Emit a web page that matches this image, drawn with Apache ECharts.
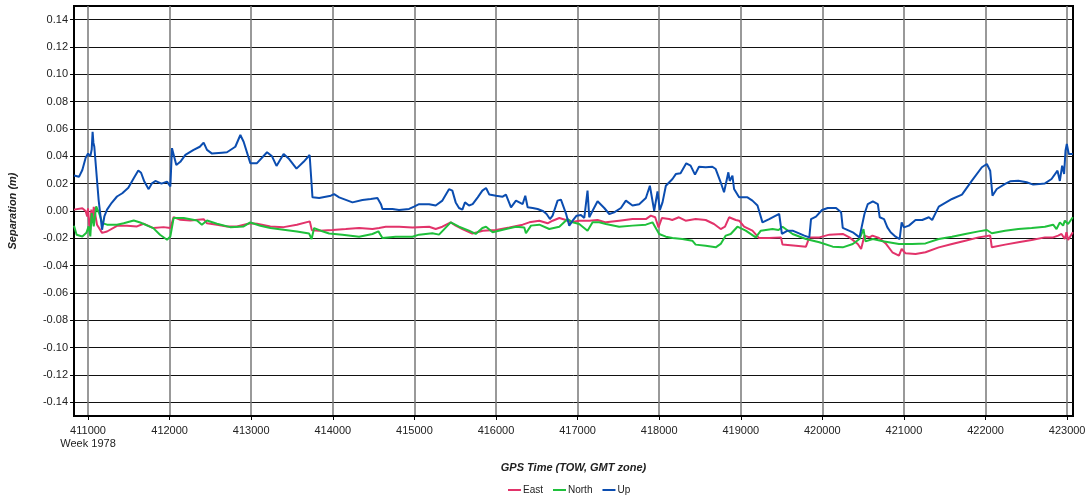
<!DOCTYPE html>
<html>
<head>
<meta charset="utf-8">
<script src="https://cdn.jsdelivr.net/npm/echarts@6/dist/echarts.min.js"></script>
<style>
  html, body { margin: 0; padding: 0; background: #fff; }
  #chart { width: 1089px; height: 502px; }
</style>
</head>
<body>
<div id="chart"></div>
<script>
// tick values
var xTicks = [411000, 412000, 413000, 414000, 415000, 416000, 417000, 418000, 419000, 420000, 421000, 422000, 423000];
var yTicks = [-0.14, -0.12, -0.10, -0.08, -0.06, -0.04, -0.02, 0, 0.02, 0.04, 0.06, 0.08, 0.10, 0.12, 0.14];
var seriesNames = ['East', 'North', 'Up'];

// [GPS TOW, separation m]
var eastData = [[410828,0.001],[410930,0.002],[410970,0.000],[410990,-0.004],[411000,0.002],[411015,-0.010],[411028,-0.0137],[411040,0.001],[411056,-0.0086],[411070,0.003],[411090,-0.003],[411110,-0.010],[411172,-0.016],[411233,-0.015],[411355,-0.0108],[411478,-0.0108],[411600,-0.0113],[411680,-0.0093],[411800,-0.0125],[411925,-0.0118],[412009,-0.0125],[412049,-0.0045],[412131,-0.0064],[412254,-0.007],[412417,-0.006],[412458,-0.009],[412580,-0.010],[412703,-0.0113],[412825,-0.0113],[412989,-0.0089],[413071,-0.0093],[413235,-0.0113],[413397,-0.0118],[413560,-0.010],[413718,-0.0076],[413743,-0.0140],[413833,-0.0144],[413996,-0.0139],[414159,-0.0132],[414322,-0.0124],[414486,-0.0132],[414567,-0.0124],[414649,-0.0115],[414812,-0.0115],[414976,-0.012],[415180,-0.0115],[415261,-0.0132],[415343,-0.0115],[415445,-0.0083],[415506,-0.0107],[415588,-0.0132],[415710,-0.0165],[415771,-0.0156],[415837,-0.0144],[416000,-0.0139],[416163,-0.012],[416327,-0.010],[416408,-0.0083],[416531,-0.0071],[416633,-0.009],[416694,-0.0071],[416776,-0.0051],[416857,-0.0066],[416918,-0.0083],[417020,-0.0071],[417143,-0.0071],[417245,-0.0066],[417347,-0.0083],[417510,-0.0071],[417673,-0.0059],[417837,-0.0059],[417898,-0.0034],[417951,-0.0046],[417992,-0.012],[418033,-0.0051],[418122,-0.0059],[418160,-0.0066],[418242,-0.0046],[418324,-0.0071],[418447,-0.0059],[418570,-0.0066],[418672,-0.0095],[418754,-0.0132],[418807,-0.0115],[418857,-0.0046],[418939,-0.0066],[418980,-0.0071],[419041,-0.0115],[419143,-0.0144],[419225,-0.0198],[419348,-0.0198],[419492,-0.0193],[419512,-0.0246],[419676,-0.0254],[419799,-0.0261],[419840,-0.0193],[419963,-0.0193],[420086,-0.0173],[420250,-0.0168],[420332,-0.0193],[420434,-0.0241],[420475,-0.0278],[420516,-0.018],[420578,-0.0193],[420614,-0.018],[420695,-0.0198],[420776,-0.0237],[420858,-0.0302],[420939,-0.0327],[420972,-0.0278],[421020,-0.031],[421142,-0.0315],[421264,-0.0302],[421427,-0.0266],[421589,-0.0241],[421752,-0.0217],[421915,-0.0193],[422057,-0.018],[422077,-0.0266],[422240,-0.0246],[422402,-0.0229],[422565,-0.0212],[422728,-0.0193],[422829,-0.0193],[422890,-0.018],[422931,-0.0168],[422972,-0.0205],[422992,-0.0156],[423012,-0.0212],[423070,-0.0156]];

var northData = [[410828,-0.0108],[410860,-0.0174],[410930,-0.0186],[410980,-0.016],[411007,-0.0113],[411028,-0.0186],[411045,-0.0015],[411070,-0.0113],[411100,0.0033],[411135,-0.0015],[411175,-0.0089],[411233,-0.010],[411355,-0.010],[411437,-0.0089],[411560,-0.007],[411640,-0.0084],[411800,-0.0125],[411882,-0.0174],[411968,-0.021],[412009,-0.0186],[412049,-0.0052],[412172,-0.0052],[412335,-0.007],[412395,-0.010],[412458,-0.007],[412580,-0.0093],[412743,-0.0118],[412907,-0.0113],[412989,-0.0084],[413112,-0.0108],[413235,-0.0125],[413397,-0.0137],[413560,-0.015],[413710,-0.0165],[413740,-0.0205],[413771,-0.0125],[413853,-0.0144],[413955,-0.0165],[414118,-0.0173],[414322,-0.0188],[414486,-0.0168],[414559,-0.0149],[414608,-0.0198],[414771,-0.0188],[414976,-0.0188],[415057,-0.0173],[415220,-0.0163],[415302,-0.0173],[415445,-0.0083],[415547,-0.0115],[415669,-0.0144],[415751,-0.0168],[415833,-0.0124],[415878,-0.0115],[415959,-0.0156],[416122,-0.0132],[416245,-0.0115],[416347,-0.012],[416367,-0.0163],[416429,-0.0107],[416531,-0.010],[416653,-0.0132],[416776,-0.0115],[416878,-0.0059],[416939,-0.0083],[417020,-0.0095],[417122,-0.0144],[417184,-0.0083],[417265,-0.0083],[417347,-0.0095],[417510,-0.0115],[417673,-0.0107],[417837,-0.010],[417918,-0.0083],[418000,-0.0168],[418082,-0.0188],[418163,-0.0198],[418283,-0.0205],[418406,-0.0217],[418447,-0.0246],[418570,-0.0254],[418693,-0.0266],[418754,-0.0241],[418816,-0.018],[418877,-0.0168],[418959,-0.0115],[419061,-0.0144],[419184,-0.0193],[419246,-0.0144],[419389,-0.0132],[419463,-0.0139],[419512,-0.0115],[419635,-0.0168],[419799,-0.0205],[419963,-0.0229],[420127,-0.0261],[420250,-0.0266],[420373,-0.0241],[420455,-0.0205],[420504,-0.0132],[420529,-0.0222],[420619,-0.0205],[420742,-0.0222],[420939,-0.0241],[421102,-0.0241],[421264,-0.0237],[421427,-0.0205],[421589,-0.0188],[421752,-0.0168],[421915,-0.0149],[422016,-0.0139],[422077,-0.0163],[422240,-0.0144],[422402,-0.0132],[422565,-0.0124],[422728,-0.0115],[422829,-0.010],[422870,-0.0132],[422911,-0.0083],[422951,-0.0107],[422972,-0.0071],[423012,-0.0095],[423070,-0.0046]];

var upData = [[410828,0.026],[410889,0.025],[410930,0.030],[410971,0.039],[411000,0.042],[411010,0.043],[411028,0.040],[411045,0.045],[411056,0.058],[411066,0.050],[411077,0.047],[411100,0.030],[411130,0.008],[411172,-0.0137],[411200,-0.004],[411233,0.001],[411290,0.006],[411355,0.0106],[411420,0.013],[411494,0.017],[411560,0.024],[411616,0.0296],[411650,0.028],[411690,0.0215],[411743,0.016],[411780,0.020],[411825,0.022],[411900,0.020],[411968,0.0215],[412009,0.018],[412029,0.046],[412049,0.047],[412082,0.0337],[412131,0.036],[412193,0.041],[412294,0.0447],[412370,0.047],[412417,0.050],[412458,0.0447],[412520,0.042],[412642,0.0427],[412703,0.043],[412805,0.047],[412867,0.0556],[412907,0.0507],[412989,0.035],[413071,0.035],[413194,0.043],[413255,0.040],[413310,0.033],[413397,0.0417],[413416,0.041],[413465,0.038],[413555,0.031],[413642,0.036],[413716,0.041],[413733,0.040],[413751,0.010],[413833,0.0095],[413976,0.0112],[414016,0.0124],[414078,0.010],[414241,0.0063],[414363,0.008],[414465,0.0088],[414547,0.0095],[414590,0.005],[414608,0.0015],[414731,0.0015],[414812,0.0007],[414935,0.0015],[414996,0.0032],[415057,0.005],[415180,0.005],[415261,0.004],[415343,0.0076],[415424,0.016],[415465,0.0149],[415506,0.0063],[415547,0.0022],[415588,0.001],[415620,0.0063],[415669,0.004],[415714,0.005],[415776,0.010],[415833,0.0149],[415878,0.0168],[415918,0.012],[416000,0.0112],[416082,0.0105],[416122,0.012],[416184,0.0027],[416245,0.0076],[416327,0.0051],[416359,0.0112],[416388,0.0027],[416449,0.0022],[416510,0.0015],[416580,-0.0002],[416620,-0.0022],[416661,-0.0059],[416694,-0.0034],[416755,0.0076],[416796,0.0083],[416857,-0.0017],[416898,-0.0107],[416939,-0.0071],[416988,-0.0034],[417041,-0.0029],[417082,-0.0051],[417122,0.0149],[417143,-0.0046],[417184,0.0002],[417245,0.0071],[417327,0.0022],[417388,-0.0022],[417449,-0.001],[417531,0.0022],[417592,0.0076],[417673,0.004],[417755,0.005],[417837,0.0095],[417886,0.0185],[417939,0.0002],[417980,0.0144],[418008,0.0007],[418041,0.0063],[418082,0.0185],[418163,0.0234],[418204,0.027],[418262,0.0276],[418332,0.0349],[418385,0.0332],[418439,0.0266],[418488,0.0324],[418570,0.032],[418652,0.0324],[418693,0.0307],[418754,0.021],[418795,0.0137],[418848,0.0283],[418865,0.022],[418898,0.0259],[418918,0.0161],[418980,0.010],[419082,0.010],[419143,0.0076],[419205,0.004],[419266,-0.0083],[419348,-0.0059],[419430,-0.0034],[419471,-0.0022],[419504,-0.0168],[419574,-0.0144],[419635,-0.0144],[419700,-0.016],[419779,-0.018],[419840,-0.0193],[419861,-0.0059],[419922,-0.0041],[419996,0.0007],[420066,0.0022],[420168,0.0022],[420230,-0.001],[420250,-0.0124],[420373,-0.0156],[420455,-0.0193],[420516,-0.0022],[420557,0.0051],[420619,0.0071],[420680,0.0051],[420703,-0.0046],[420756,-0.0059],[420797,-0.012],[420837,-0.0156],[420898,-0.0188],[420947,-0.0205],[420972,-0.0083],[421000,-0.012],[421061,-0.0107],[421142,-0.0066],[421224,-0.0066],[421305,-0.0046],[421346,-0.0066],[421427,0.0032],[421589,0.0088],[421711,0.012],[421833,0.0222],[421955,0.032],[422016,0.0344],[422057,0.0295],[422085,0.0112],[422138,0.0161],[422240,0.0198],[422301,0.0217],[422402,0.0222],[422504,0.021],[422585,0.0193],[422728,0.0202],[422809,0.0234],[422882,0.0295],[422911,0.022],[422939,0.0332],[422963,0.0271],[422980,0.0441],[422996,0.049],[423020,0.0417],[423070,0.0417]];

var colors = ['#e2336a', '#1fc03b', '#0b4db0'];
var fontFam = '"Liberation Sans", Arial, sans-serif';

var myChart = echarts.init(document.getElementById('chart'));

var option = {
    animation: false,
    color: colors,
    grid: {
        left: 74, right: 16, top: 6, bottom: 86,
        outerBoundsMode: 'none',
        containLabel: false,
        show: true,
        borderColor: '#000',
        borderWidth: 2
    },
    legend: {
        data: seriesNames,
        top: 485,
        left: 508,
        padding: 0,
        icon: 'rect',
        itemWidth: 13,
        itemHeight: 2,
        itemGap: 10,
        textStyle: { fontFamily: fontFam, fontSize: 10, color: '#222', padding: [0, 0, 0, -3] }
    },
    xAxis: {
        type: 'value',
        min: 410828,
        max: 423072,
        name: 'GPS Time (TOW, GMT zone)',
        nameLocation: 'middle',
        nameGap: 46,
        nameTextStyle: { fontFamily: fontFam, fontSize: 11, fontWeight: 'bold', fontStyle: 'italic', color: '#222' },
        axisLine: { show: true, onZero: false, lineStyle: { color: '#000', width: 2 } },
        axisTick: { show: true, customValues: xTicks, length: 4, lineStyle: { color: '#000' } },
        axisLabel: {
            customValues: xTicks,
            fontFamily: fontFam, fontSize: 11, color: '#222', margin: 8, lineHeight: 13,
            formatter: function (v) {
                return v === 411000 ? '411000\nWeek 1978' : String(v);
            }
        },
        splitLine: { show: true, lineStyle: { color: '#777', width: 1.5 } }
    },
    yAxis: {
        type: 'value',
        min: -0.15,
        max: 0.15,
        name: 'Separation (m)',
        nameLocation: 'middle',
        nameGap: 56,
        nameTextStyle: { fontFamily: fontFam, fontSize: 11, fontWeight: 'bold', fontStyle: 'italic', color: '#222' },
        axisLine: { show: true, onZero: false, lineStyle: { color: '#000', width: 2 } },
        axisTick: { show: true, customValues: yTicks, length: 4, lineStyle: { color: '#000' } },
        axisLabel: {
            customValues: yTicks,
            fontFamily: fontFam, fontSize: 11, color: '#222', margin: 6,
            formatter: function (v) { return v.toFixed(2); }
        },
        splitLine: { show: true, lineStyle: { color: '#111', width: 1 } }
    },
    series: [
        { name: 'East', type: 'line', data: eastData, showSymbol: false, lineStyle: { width: 2 }, z: 3 },
        { name: 'North', type: 'line', data: northData, showSymbol: false, lineStyle: { width: 2 }, z: 4 },
        { name: 'Up', type: 'line', data: upData, showSymbol: false, lineStyle: { width: 2 }, z: 5 }
    ]
};

myChart.setOption(option);
</script>
</body>
</html>
